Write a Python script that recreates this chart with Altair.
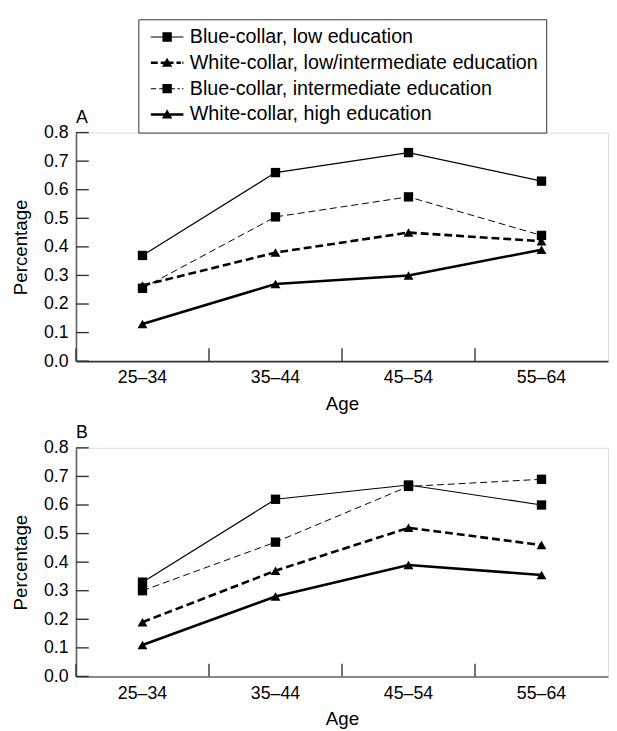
import altair as alt
import pandas as pd

FONT = "Liberation Sans"

ages = ["25–34", "35–44", "45–54", "55–64"]
series = [
    "Blue-collar, low education",
    "White-collar, low/intermediate education",
    "Blue-collar, intermediate education",
    "White-collar, high education",
]

# Panel A values
a_blue_low = [0.37, 0.66, 0.73, 0.63]
a_white_lowint = [0.265, 0.38, 0.45, 0.42]
a_blue_int = [0.255, 0.505, 0.575, 0.44]
a_white_high = [0.13, 0.27, 0.30, 0.39]

# Panel B values
b_blue_low = [0.33, 0.62, 0.67, 0.60]
b_white_lowint = [0.19, 0.37, 0.52, 0.46]
b_blue_int = [0.30, 0.47, 0.665, 0.69]
b_white_high = [0.11, 0.28, 0.39, 0.355]

y_ticks = [0.0, 0.1, 0.2, 0.3, 0.4, 0.5, 0.6, 0.7, 0.8]


def long_df(vals):
    rows = []
    for s, v in zip(series, vals):
        for a, y in zip(ages, v):
            rows.append({"series": s, "age": a, "value": y})
    return pd.DataFrame(rows)


df_a = long_df([a_blue_low, a_white_lowint, a_blue_int, a_white_high])
df_b = long_df([b_blue_low, b_white_lowint, b_blue_int, b_white_high])
tick_y_df = pd.DataFrame({"value": y_ticks})
tick_x_df = pd.DataFrame({"age": ages})

styles = {
    series[0]: dict(width=1.2, dash=None, shape="square", size=90),
    series[1]: dict(width=2.6, dash=[8, 4], shape="triangle-up", size=100),
    series[2]: dict(width=1.0, dash=[7, 4], shape="square", size=90),
    series[3]: dict(width=2.6, dash=None, shape="triangle-up", size=100),
}

# legend symbols: line + marker as filled custom paths (units of 5px)
sq = "M-0.95,-0.95H0.95V0.95H-0.95Z"
tri = "M0,-1.05L1.05,0.8H-1.05Z"
legend_paths = [
    "M-3.3,-0.12H3.3V0.12H-3.3Z" + sq,
    "M-3.3,-0.26H-1.9V0.26H-3.3Z M-1.3,-0.26H1.3V0.26H-1.3Z M1.9,-0.26H2.8V0.26H1.9Z M3.1,-0.26H3.3V0.26H3.1Z" + tri,
    "M-3.3,-0.1H-2.2V0.1H-3.3Z M-1.6,-0.1H1.6V0.1H-1.6Z M2.1,-0.1H2.6V0.1H2.1Z M3.0,-0.1H3.3V0.1H3.0Z" + sq,
    "M-3.3,-0.26H3.3V0.26H-3.3Z" + tri,
]

W = 540
H = 232


def panel(df, letter, x_domain_color, with_legend):
    xscale = alt.Scale(type="band", domain=ages, paddingInner=0, paddingOuter=0)
    yscale = alt.Scale(domain=[0, 0.8], nice=False, zero=True)
    xaxis = alt.Axis(
        title="Age", labelAngle=0, ticks=False, grid=False, domain=True,
        domainColor=x_domain_color, domainWidth=1.6,
        labelFont=FONT, labelFontSize=18, labelColor="black", labelPadding=8,
        titleFont=FONT, titleFontSize=19, titleFontWeight="normal",
        titleColor="black", titlePadding=8,
    )
    yaxis = alt.Axis(
        title="Percentage", values=y_ticks, format=".1f", ticks=False,
        grid=False, domain=True, domainColor="#666", domainWidth=1.7,
        labelFont=FONT, labelFontSize=18, labelColor="black", labelPadding=8,
        titleFont=FONT, titleFontSize=19, titleFontWeight="normal",
        titleColor="black", titlePadding=13,
    )
    x_ax = alt.X("age:N", sort=ages, scale=xscale, axis=xaxis)
    y_ax = alt.Y("value:Q", scale=yscale, axis=yaxis)

    layers = []
    base = alt.Chart(df)
    for s in series:
        st = styles[s]
        sub = base.transform_filter(alt.datum.series == s)
        lkw = dict(color="black", strokeWidth=st["width"])
        if st["dash"]:
            lkw["strokeDash"] = st["dash"]
        line = sub.mark_line(**lkw).encode(x=x_ax, y=y_ax)
        pts = sub.mark_point(
            shape=st["shape"], filled=True, size=st["size"], color="black", opacity=1
        ).encode(x=x_ax, y=y_ax)
        layers += [line, pts]

    yticks = alt.Chart(tick_y_df).mark_rule(color="#333", strokeWidth=1.4).encode(
        y=y_ax, x=alt.value(0), x2=alt.value(13)
    )
    xticks = alt.Chart(tick_x_df).mark_rule(color="#333", strokeWidth=1.4).encode(
        x=alt.X("age:N", sort=ages, scale=xscale, axis=xaxis, bandPosition=0),
        y=alt.value(H), y2=alt.value(H - 13),
    )
    label = alt.Chart(pd.DataFrame({"panel": [letter]})).mark_text(
        align="left", baseline="alphabetic", font=FONT, fontSize=18, color="black"
    ).encode(text="panel:N", x=alt.value(0), y=alt.value(-10))
    layers += [yticks, xticks, label]

    if with_legend:
        leg = base.transform_filter("false").mark_point(
            filled=True, color="black", opacity=1, strokeWidth=0
        ).encode(
            x=x_ax, y=y_ax,
            shape=alt.Shape(
                "series:N",
                scale=alt.Scale(domain=series, range=legend_paths),
                legend=alt.Legend(
                    title=None, orient="none", legendX=63.3, legendY=-115,
                    labelFont=FONT, labelFontSize=20, labelColor="black",
                    labelLimit=0, padding=8, strokeColor="#333",
                    fillColor="white", symbolSize=100,
                    symbolFillColor="black", symbolStrokeWidth=0,
                    symbolOffset=11.2, labelOffset=13, rowPadding=6.2,
                ),
            ),
        )
        layers.append(leg)

    return alt.layer(*layers).properties(width=W, height=H)


chart = alt.vconcat(
    panel(df_a, "A", "#333", True),
    panel(df_b, "B", "#666", False),
    spacing=88,
    bounds="flush",
).properties(
    padding={"left": 3, "top": 5, "right": 0, "bottom": 0}
).configure_view(strokeWidth=0).configure(background="white")

chart.save("out.html", embed_options={"renderer": "svg", "actions": False})
